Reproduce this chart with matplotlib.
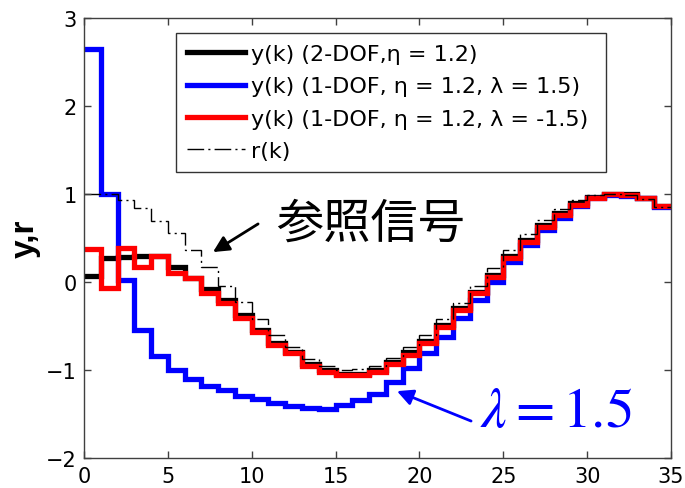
import numpy as np
import matplotlib
matplotlib.use("Agg")
import matplotlib.pyplot as plt
from matplotlib.lines import Line2D

plt.rcParams['font.family'] = ['DejaVu Sans']

# ---- data ----
k_edges = list(range(0, 36))  # sample instants 0..35

y_2dof = [0.07, 0.27, 0.28, 0.29, 0.29, 0.17, 0.05, -0.08, -0.21, -0.38,
          -0.55, -0.69, -0.80, -0.93, -1.00, -1.04, -1.04, -1.00, -0.91, -0.80,
          -0.67, -0.49, -0.30, -0.11, 0.08, 0.29, 0.48, 0.65, 0.78, 0.90,
          0.97, 1.00, 1.00, 0.96, 0.86]

y_1dof_pos = [2.65, 1.00, 0.02, -0.55, -0.84, -1.00, -1.10, -1.18, -1.23, -1.29,
              -1.33, -1.38, -1.41, -1.43, -1.44, -1.40, -1.34, -1.27, -1.14, -0.98,
              -0.81, -0.62, -0.41, -0.20, 0.00, 0.23, 0.42, 0.59, 0.73, 0.86,
              0.95, 0.99, 0.98, 0.95, 0.85]

y_1dof_neg = [0.37, -0.07, 0.39, 0.17, 0.30, 0.10, 0.04, -0.12, -0.24, -0.41,
              -0.57, -0.72, -0.81, -0.95, -1.02, -1.06, -1.06, -1.02, -0.93, -0.83,
              -0.69, -0.51, -0.32, -0.13, 0.06, 0.27, 0.46, 0.63, 0.76, 0.88,
              0.96, 1.00, 0.99, 0.96, 0.86]

r_ref = [1.00, 1.00, 0.93, 0.84, 0.69, 0.56, 0.36, 0.17, -0.04, -0.23,
         -0.42, -0.60, -0.74, -0.87, -0.96, -1.00, -0.99, -0.95, -0.86, -0.74,
         -0.60, -0.42, -0.24, -0.04, 0.16, 0.36, 0.55, 0.70, 0.83, 0.93,
         0.99, 1.00, 0.99, 0.94, 0.85]

labels = ["y(k) (2-DOF,\u03b7 = 1.2)",
          "y(k) (1-DOF, \u03b7 = 1.2, \u03bb = 1.5)",
          "y(k) (1-DOF, \u03b7 = 1.2, \u03bb = -1.5)",
          "r(k)"]

xticks = [0, 5, 10, 15, 20, 25, 30, 35]
yticks = [-2, -1, 0, 1, 2, 3]

# ---- figure ----
fig = plt.figure(figsize=(6.85, 4.89), dpi=100)
ax = fig.add_axes([84 / 685, 1 - 459 / 489, (671 - 84) / 685, (459 - 19) / 489])

edges = np.array(k_edges)
lw = 3.8
dash = (0, (12, 3, 1.5, 3))
ax.stairs(y_2dof, edges, baseline=None, color='black', lw=lw)
ax.stairs(y_1dof_pos, edges, baseline=None, color='#0000ff', lw=lw)
ax.stairs(y_1dof_neg, edges, baseline=None, color='#ff0000', lw=lw)
ax.stairs(r_ref, edges, baseline=None, color='black', lw=1.0, linestyle=dash)

ax.set_xlim(0, 35)
ax.set_ylim(-2, 3)
ax.set_xticks(xticks)
ax.set_yticks(yticks)
ax.tick_params(direction='in', length=5, width=1, top=True, right=True,
               labelsize=15, color='#404040')
ax.tick_params(axis='x', pad=6)
ax.tick_params(axis='y', pad=5)
for s in ax.spines.values():
    s.set_color('#404040')
    s.set_linewidth(1.0)

ax.set_ylabel("y,r", fontsize=24, fontweight='bold',
              family=['Liberation Sans', 'DejaVu Sans'])
ax.yaxis.set_label_coords(-0.074, 0.5)

handles = [Line2D([], [], color='black', lw=lw),
           Line2D([], [], color='#0000ff', lw=lw),
           Line2D([], [], color='#ff0000', lw=lw),
           Line2D([], [], color='black', lw=1.0, linestyle=dash)]
leg = ax.legend(handles, labels, loc='upper left',
                bbox_to_anchor=(0.157, 0.65, 0.732, 0.316), mode='expand',
                borderaxespad=0, fontsize=16, handlelength=2.6, handletextpad=0.25,
                labelspacing=0.55, borderpad=0.5, frameon=True, fancybox=False)
leg.get_frame().set_edgecolor('black')
leg.get_frame().set_linewidth(1.0)

# annotation: reference signal
ax.text(11.45, 0.66, "参照信号", fontsize=34,
        family=['Noto Sans CJK JP', 'DejaVu Sans'], va='center', ha='left')
ax.annotate("", xy=(7.69, 0.34), xytext=(10.38, 0.66),
            arrowprops=dict(arrowstyle='-|>', color='black', lw=2,
                            mutation_scale=24, shrinkA=0, shrinkB=0))

# annotation: lambda = 1.5
ax.text(23.6, -1.46, r"$\lambda = 1.5$", fontsize=41, color='#0000ff',
        va='center', ha='left', math_fontfamily='stix')
ax.annotate("", xy=(18.66, -1.24), xytext=(23.08, -1.58),
            arrowprops=dict(arrowstyle='-|>', color='#0000ff', lw=2,
                            mutation_scale=24, shrinkA=0, shrinkB=0))

fig.savefig("out.png", dpi=100)
